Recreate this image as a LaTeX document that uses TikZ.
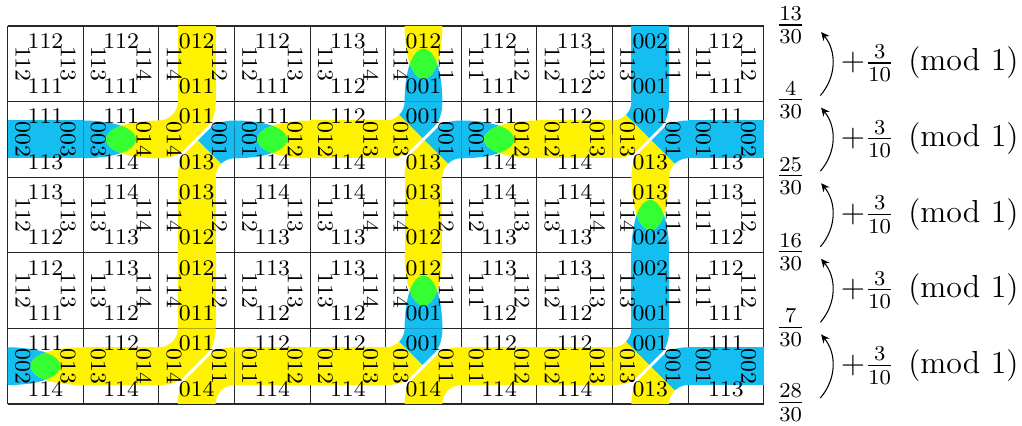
\documentclass[tikz,border=0pt]{standalone}
\usetikzlibrary{arrows.meta}
\definecolor{cyel}{RGB}{255,242,0}
\definecolor{cblu}{RGB}{20,190,240}
\definecolor{cgrn}{RGB}{51,255,51}
\tikzset{
  gridline/.style={line width=.4pt,black!85},
  lab/.style={inner sep=0pt,font=\footnotesize,scale=1.05},
  frc/.style={inner sep=0pt,font=\large,anchor=base},
  shiftlab/.style={inner sep=0pt,font=\large,anchor=base west},
  bendarrow/.style={-{Stealth[length=3.2pt,width=3pt]},line width=.4pt,bend right=40}
}
% pieces, in cell coordinates 0..1
\newcommand{\hband}[3]{\fill[#3] (#1,#2+.25) rectangle (#1+1,#2+.75);}
\newcommand{\vband}[3]{\fill[#3] (#1+.25,#2) rectangle (#1+.75,#2+1);}
\newcommand{\lensbody}[2]{%
  \fill[#1] (0,.25) -- (0,.75) .. controls (.25,.75) and (.68,.70) .. (.7,.5) .. controls (.68,.30) and (.25,.25) .. (0,.25) -- cycle;
  \fill[#2] (1,.25) -- (1,.75) .. controls (.75,.75) and (.32,.70) .. (.3,.5) .. controls (.32,.30) and (.75,.25) .. (1,.25) -- cycle;
  \begin{scope}
    \clip (0,.25) -- (0,.75) .. controls (.25,.75) and (.68,.70) .. (.7,.5) .. controls (.68,.30) and (.25,.25) .. (0,.25) -- cycle;
    \fill[cgrn] (1,.25) -- (1,.75) .. controls (.75,.75) and (.32,.70) .. (.3,.5) .. controls (.32,.30) and (.75,.25) .. (1,.25) -- cycle;
  \end{scope}}
\newcommand{\hlens}[4]{\begin{scope}[shift={(#1,#2)}]\lensbody{#3}{#4}\end{scope}}
\newcommand{\vlens}[4]{\begin{scope}[shift={(#1,#2)},rotate around={90:(.5,.5)}]\lensbody{#4}{#3}\end{scope}}
% T L R B
\newcommand{\crossing}[6]{\begin{scope}[shift={(#1,#2)}]
  \fill[#3] (.177,.823) arc[start angle=-45,end angle=0,radius=.25] -- (.75,1)
     .. controls (.75,.85) and (.71,.75) .. (.665,.695) -- (.485,.515) -- cycle;
  \fill[#4] (.177,.823) arc[start angle=-45,end angle=-90,radius=.25] -- (0,.25)
     .. controls (.15,.25) and (.25,.29) .. (.305,.335) -- (.485,.515) -- cycle;
  \fill[#5] (.823,.177) arc[start angle=135,end angle=90,radius=.25] -- (1,.75)
     .. controls (.85,.75) and (.75,.71) .. (.695,.665) -- (.515,.485) -- cycle;
  \fill[#6] (.823,.177) arc[start angle=135,end angle=180,radius=.25] -- (.25,0)
     .. controls (.25,.15) and (.29,.25) .. (.335,.305) -- (.515,.485) -- cycle;
\end{scope}}
\begin{document}
\begin{tikzpicture}
\useasboundingbox (-.102,-.29) rectangle (13.417,5.344);
% grid
\draw[gridline] (0,0) grid (10,5);
% row 1 (top)
\vband{2}{4}{cyel} \vlens{5}{4}{cyel}{cblu} \vband{8}{4}{cblu}
% row 2
\hband{0}{3}{cblu} \hlens{1}{3}{cblu}{cyel} \crossing{2}{3}{cyel}{cyel}{cblu}{cyel}
\hlens{3}{3}{cblu}{cyel} \hband{4}{3}{cyel} \crossing{5}{3}{cblu}{cyel}{cblu}{cyel}
\hlens{6}{3}{cblu}{cyel} \hband{7}{3}{cyel} \crossing{8}{3}{cblu}{cyel}{cblu}{cyel} \hband{9}{3}{cblu}
% row 3
\vband{2}{2}{cyel} \vband{5}{2}{cyel} \vlens{8}{2}{cyel}{cblu}
% row 4
\vband{2}{1}{cyel} \vlens{5}{1}{cyel}{cblu} \vband{8}{1}{cblu}
% row 5
\hlens{0}{0}{cblu}{cyel} \hband{1}{0}{cyel} \crossing{2}{0}{cyel}{cyel}{cyel}{cyel}
\hband{3}{0}{cyel} \hband{4}{0}{cyel} \crossing{5}{0}{cblu}{cyel}{cyel}{cyel}
\hband{6}{0}{cyel} \hband{7}{0}{cyel} \crossing{8}{0}{cblu}{cyel}{cblu}{cyel} \hband{9}{0}{cblu}
% cell labels
\foreach \yy/\rowlist in {
 4/{0/112/112/113/111,1/112/113/114/111,2/012/114/112/011,3/112/112/113/111,4/113/113/114/112,5/012/114/111/001,6/112/111/112/111,7/113/112/113/112,8/002/113/111/001,9/112/111/112/111},
 3/{0/111/002/003/113,1/111/003/014/114,2/011/014/001/013,3/111/001/012/114,4/112/012/013/114,5/001/013/001/013,6/111/001/012/114,7/112/012/013/114,8/001/013/001/013,9/111/001/002/113},
 2/{0/113/112/113/112,1/114/113/114/113,2/013/114/112/012,3/114/112/113/113,4/114/113/114/113,5/013/114/112/012,6/114/112/113/113,7/114/113/114/113,8/013/114/111/002,9/113/111/112/112},
 1/{0/112/112/113/111,1/113/113/114/112,2/012/114/112/011,3/113/112/113/112,4/113/113/114/112,5/012/114/111/001,6/113/111/112/112,7/113/112/113/112,8/002/113/111/001,9/112/111/112/111},
 0/{0/111/002/013/114,1/112/013/014/114,2/011/014/011/014,3/112/011/012/114,4/112/012/013/114,5/001/013/011/014,6/112/011/012/114,7/112/012/013/114,8/001/013/001/013,9/111/001/002/113}}
{
  \foreach \xx/\T/\L/\R/\B in \rowlist {
    \node[lab] (t\xx-\yy) at (\xx+.5,\yy+.8) {$\T$};
    \node[lab,rotate=-90] (l\xx-\yy) at (\xx+.2,\yy+.5) {$\L$};
    \node[lab,rotate=-90] (r\xx-\yy) at (\xx+.8,\yy+.5) {$\R$};
    \node[lab] (b\xx-\yy) at (\xx+.5,\yy+.2) {$\B$};
  }
}
% fractions
\node[frc] (f5) at (10.357,4.908) {$\frac{13}{30}$};
\node[frc] (f4) at (10.357,3.916) {$\frac{4}{30}$};
\node[frc] (f3) at (10.357,2.914) {$\frac{25}{30}$};
\node[frc] (f2) at (10.357,1.909) {$\frac{16}{30}$};
\node[frc] (f1) at (10.357,0.909) {$\frac{7}{30}$};
\node[frc] (f0) at (10.357,-.083) {$\frac{28}{30}$};
% arrows and shifts
\foreach \k in {0,1,2,3,4} {
  \coordinate (s\k) at (10.75,\k+.08);
  \coordinate (e\k) at (10.76,\k+.92);
  \draw[bendarrow] (s\k) to (e\k);
  \node[shiftlab] (p\k) at (11.015,\k+.405) {$+\frac{3}{10}\mkern8mu(\mathrm{mod}\,\,1)$};
}
\end{tikzpicture}
\end{document}
